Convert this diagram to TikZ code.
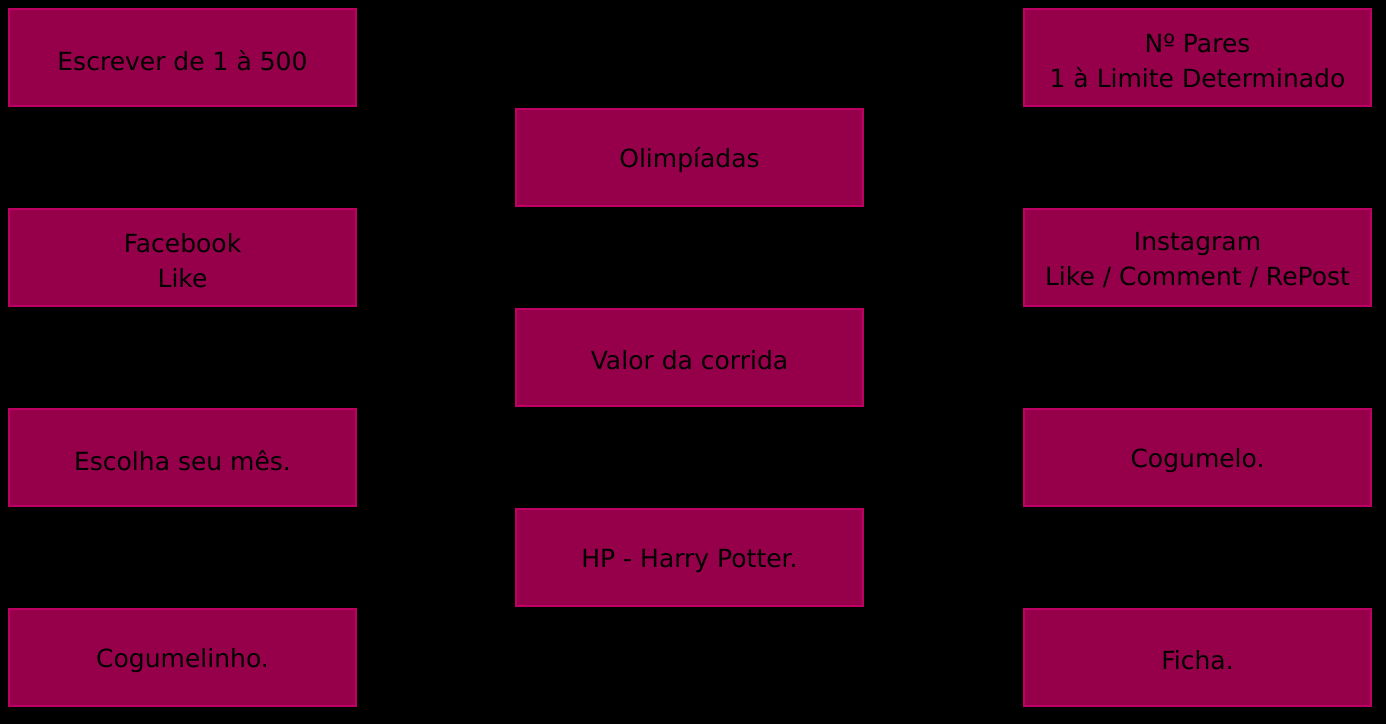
\documentclass[tikz,border=0pt]{standalone}
\usepackage{fontspec}
\setmainfont{DejaVu Sans}
\definecolor{boxfill}{RGB}{150,0,75}
\definecolor{boxline}{RGB}{190,0,100}
\begin{document}
\begin{tikzpicture}[x=1pt,y=-1pt,
  card/.style={draw=boxline,line width=2pt,fill=boxfill,minimum width=347pt,minimum height=97pt,inner sep=0pt},
  cardtext/.style={inner sep=0pt,align=center,text=black,font=\fontsize{25}{35}\selectfont}]
\fill[black] (0,0) rectangle (1386,724);
\useasboundingbox (0,0) rectangle (1386,724);
% left column
\node[card] (l1) at (182.5,57.5) {};
\node[card] (l2) at (182.5,257.5) {};
\node[card] (l3) at (182.5,457.5) {};
\node[card] (l4) at (182.5,657.5) {};
% middle column
\node[card] (m1) at (689.5,157.5) {};
\node[card] (m2) at (689.5,357.5) {};
\node[card] (m3) at (689.5,557.5) {};
% right column
\node[card] (r1) at (1197.5,57.5) {};
\node[card] (r2) at (1197.5,257.5) {};
\node[card] (r3) at (1197.5,457.5) {};
\node[card] (r4) at (1197.5,657.5) {};
% texts
\node[cardtext] (tl1) at ([yshift=-3pt]l1.center) {Escrever de 1 à 500};
\node[cardtext] (tl2) at ([yshift=-3pt]l2.center) {Facebook\\Like};
\node[cardtext] (tl3) at ([yshift=-3pt]l3.center) {Escolha seu mês.};
\node[cardtext] (tl4) at ([yshift=-3pt]l4.center) {Cogumelinho.};
\node[cardtext] (tm1) at ([yshift=-3pt]m1.center) {Olimpíadas};
\node[cardtext] (tm2) at ([yshift=-3pt]m2.center) {Valor da corrida};
\node[cardtext] (tm3) at ([yshift=-3pt]m3.center) {HP - Harry Potter.};
\node[cardtext] (tr1) at ([yshift=-3pt]r1.center) {Nº Pares\\1 à Limite Determinado};
\node[cardtext] (tr2) at ([yshift=-3pt]r2.center) {Instagram\\Like / Comment / RePost};
\node[cardtext] (tr3) at ([yshift=-3pt]r3.center) {Cogumelo.};
\node[cardtext] (tr4) at ([yshift=-3pt]r4.center) {Ficha.};
\end{tikzpicture}
\end{document}
